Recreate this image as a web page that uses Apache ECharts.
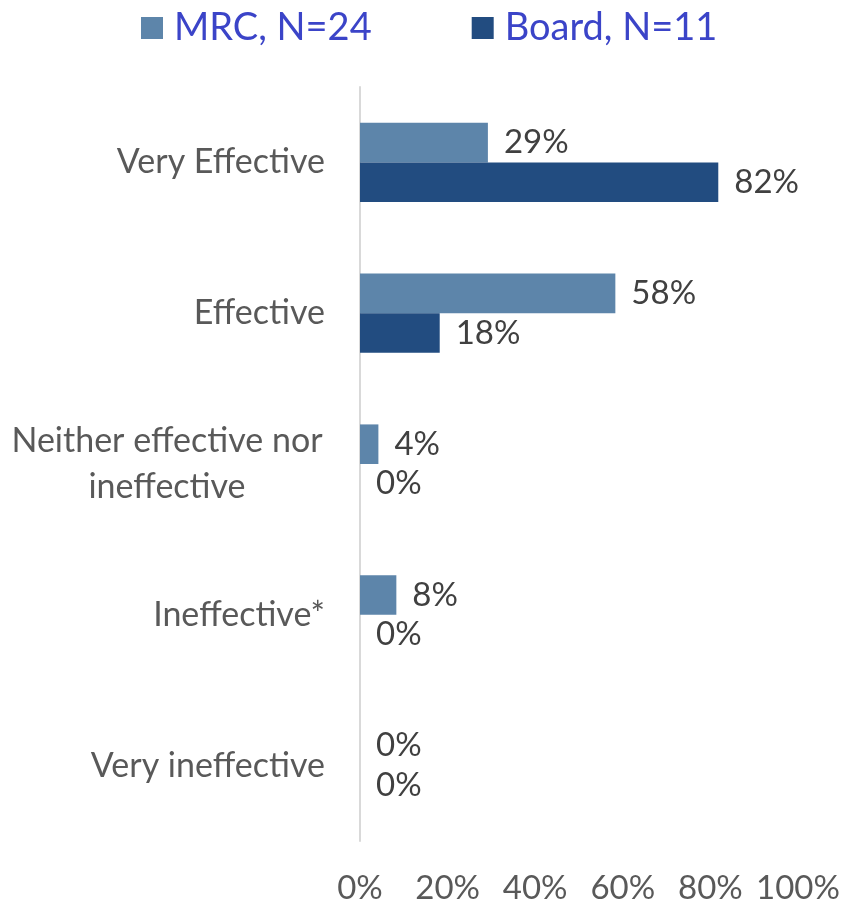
<!DOCTYPE html>
<html>
<head>
<meta charset="utf-8">
<script src="https://cdn.jsdelivr.net/npm/echarts@6/dist/echarts.min.js"></script>
<style>
html,body{margin:0;padding:0;background:#fff;}
#chart{width:844px;height:905px;}
</style>
</head>
<body>
<div id="chart"></div>
<script>
const categories = ['Very Effective', 'Effective', 'Neither effective nor ineffective', 'Ineffective*', 'Very ineffective'];
const seriesNames = ['MRC, N=24', 'Board, N=11'];
const mrcValues = [29.2, 58.3, 4.2, 8.3, 0];
const boardValues = [81.8, 18.2, 0, 0, 0];
const xTicks = [0, 20, 40, 60, 80, 100];

const FONT = 'Lato, "Open Sans", sans-serif';
const chart = echarts.init(document.getElementById('chart'));

const labelCfg = {
  show: true,
  position: 'right',
  distance: 16,
  color: '#404040',
  fontFamily: FONT,
  fontSize: 33,
  formatter: p => Math.round(p.value) + '%'
};

chart.setOption({
  animation: false,
  legend: {
    top: 4,
    left: 136,
    itemWidth: 22,
    itemHeight: 22,
    itemGap: 100,
    icon: 'rect',
    textStyle: { color: '#3b44c8', fontFamily: FONT, fontSize: 38, padding: [0, 0, 0, 6] },
    data: seriesNames
  },
  grid: { left: 360, right: 46, top: 87, bottom: 63, containLabel: false },
  xAxis: {
    type: 'value',
    min: xTicks[0],
    max: xTicks[xTicks.length - 1],
    interval: 20,
    axisLine: { show: false },
    axisTick: { show: false },
    splitLine: { show: false },
    axisLabel: {
      margin: 31,
      color: '#595959',
      fontFamily: FONT,
      fontSize: 33,
      formatter: v => v + '%'
    }
  },
  yAxis: {
    type: 'category',
    inverse: true,
    data: categories,
    axisTick: { show: false },
    axisLine: { show: true, lineStyle: { color: '#d9d9d9', width: 2 } },
    axisLabel: {
      margin: 35,
      color: '#595959',
      fontFamily: FONT,
      fontSize: 34,
      lineHeight: 46,
      formatter: v => v === 'Neither effective nor ineffective'
        ? '{c|Neither effective nor}\n{c|ineffective}' : v,
      rich: {
        c: { width: 316, align: 'center', color: '#595959', fontFamily: FONT, fontSize: 34, lineHeight: 46 }
      }
    }
  },
  series: [
    {
      name: seriesNames[0],
      type: 'bar',
      data: mrcValues,
      barGap: '0%',
      barCategoryGap: '47.5%',
      itemStyle: { color: '#5d85aa' },
      label: labelCfg
    },
    {
      name: seriesNames[1],
      type: 'bar',
      data: boardValues,
      barGap: '0%',
      barCategoryGap: '47.5%',
      itemStyle: { color: '#224c80' },
      label: labelCfg
    }
  ]
});
</script>
</body>
</html>
